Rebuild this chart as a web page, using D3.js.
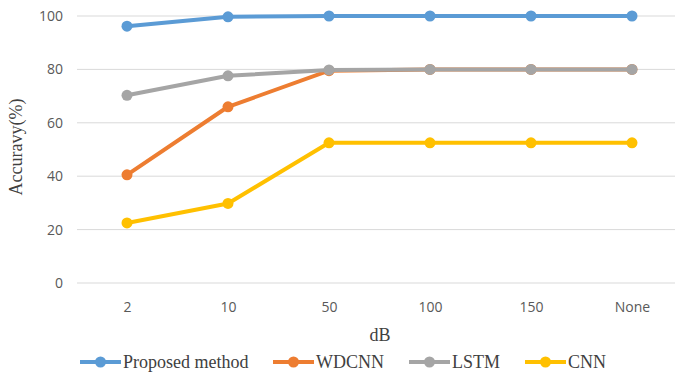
<!DOCTYPE html>
<html>
<head>
<meta charset="utf-8">
<script src="https://cdn.jsdelivr.net/npm/d3@7"></script>
<style>
  body { margin: 0; background: #fff; }
  svg { display: block; }
</style>
</head>
<body>
<svg id="chart"></svg>
<script>
const categories = ["2", "10", "50", "100", "150", "None"];
const yTicks = [0, 20, 40, 60, 80, 100];

const proposed = [96.2, 99.7, 100, 100, 100, 100];
const wdcnn = [40.5, 66, 79.5, 80, 80, 80];
const lstm = [70.3, 77.6, 79.8, 80, 80, 80];
const cnn = [22.5, 29.8, 52.5, 52.5, 52.5, 52.5];

const seriesNames = ["Proposed method", "WDCNN", "LSTM", "CNN"];
const seriesValues = [proposed, wdcnn, lstm, cnn];
const colors = ["#5b9bd5", "#ed7d31", "#a5a5a5", "#ffc000"];

const width = 675, height = 373;
const svg = d3.select('#chart').attr('width', width).attr('height', height);

// plot area
const x = d3.scalePoint().domain(categories).range([127, 632]);
const y = d3.scaleLinear().domain([0, 100]).range([283, 16]);

// gridlines
svg.append('g')
  .selectAll('line')
  .data(yTicks)
  .join('line')
  .attr('x1', 77).attr('x2', 683)
  .attr('y1', d => y(d)).attr('y2', d => y(d))
  .attr('stroke', '#d9d9d9')
  .attr('stroke-width', 1);

// y axis labels
const axisLeft = d3.axisLeft(y).tickValues(yTicks).tickSize(0).tickPadding(0);
const gy = svg.append('g').attr('transform', 'translate(63,0)').call(axisLeft);
gy.select('.domain').remove();
gy.selectAll('text')
  .attr('font-family', 'Open Sans, Liberation Sans, sans-serif')
  .attr('font-size', 14)
  .attr('fill', '#595959');

// x axis labels
const axisBottom = d3.axisBottom(x).tickSize(0).tickPadding(0);
const gx = svg.append('g').attr('transform', 'translate(0,302)').call(axisBottom);
gx.select('.domain').remove();
gx.selectAll('text')
  .attr('font-family', 'Open Sans, Liberation Sans, sans-serif')
  .attr('font-size', 14)
  .attr('fill', '#595959');

// axis titles
svg.append('text')
  .attr('transform', 'translate(22,147) rotate(-90)')
  .attr('text-anchor', 'middle')
  .attr('font-family', 'Liberation Serif, Times New Roman, serif')
  .attr('font-size', 18)
  .attr('fill', '#404040')
  .text('Accuravy(%)');

svg.append('text')
  .attr('x', 380).attr('y', 341)
  .attr('text-anchor', 'middle')
  .attr('font-family', 'Liberation Serif, Times New Roman, serif')
  .attr('font-size', 18)
  .attr('fill', '#404040')
  .text('dB');

// lines
const line = d3.line().x((d, i) => x(categories[i])).y(d => y(d));

seriesValues.forEach((vals, k) => {
  const g = svg.append('g');
  g.append('path')
    .datum(vals)
    .attr('d', line)
    .attr('fill', 'none')
    .attr('stroke', colors[k])
    .attr('stroke-width', 4)
    .attr('stroke-linejoin', 'round');
  g.selectAll('circle')
    .data(vals)
    .join('circle')
    .attr('cx', (d, i) => x(categories[i]))
    .attr('cy', d => y(d))
    .attr('r', 5.5)
    .attr('fill', colors[k]);
});

// legend
const legendX = [80, 273, 409, 525];
const legend = svg.append('g');
seriesNames.forEach((name, k) => {
  const lg = legend.append('g').attr('transform', `translate(${legendX[k]},362)`);
  lg.append('line').attr('x1', 0).attr('x2', 41).attr('y1', 0).attr('y2', 0)
    .attr('stroke', colors[k]).attr('stroke-width', 4);
  lg.append('circle').attr('cx', 20.5).attr('cy', 0).attr('r', 5.5).attr('fill', colors[k]);
  lg.append('text')
    .attr('x', 43).attr('y', 6)
    .attr('font-family', 'Liberation Serif, Times New Roman, serif')
    .attr('font-size', 18)
    .attr('fill', '#404040')
    .text(name);
});
</script>
</body>
</html>
